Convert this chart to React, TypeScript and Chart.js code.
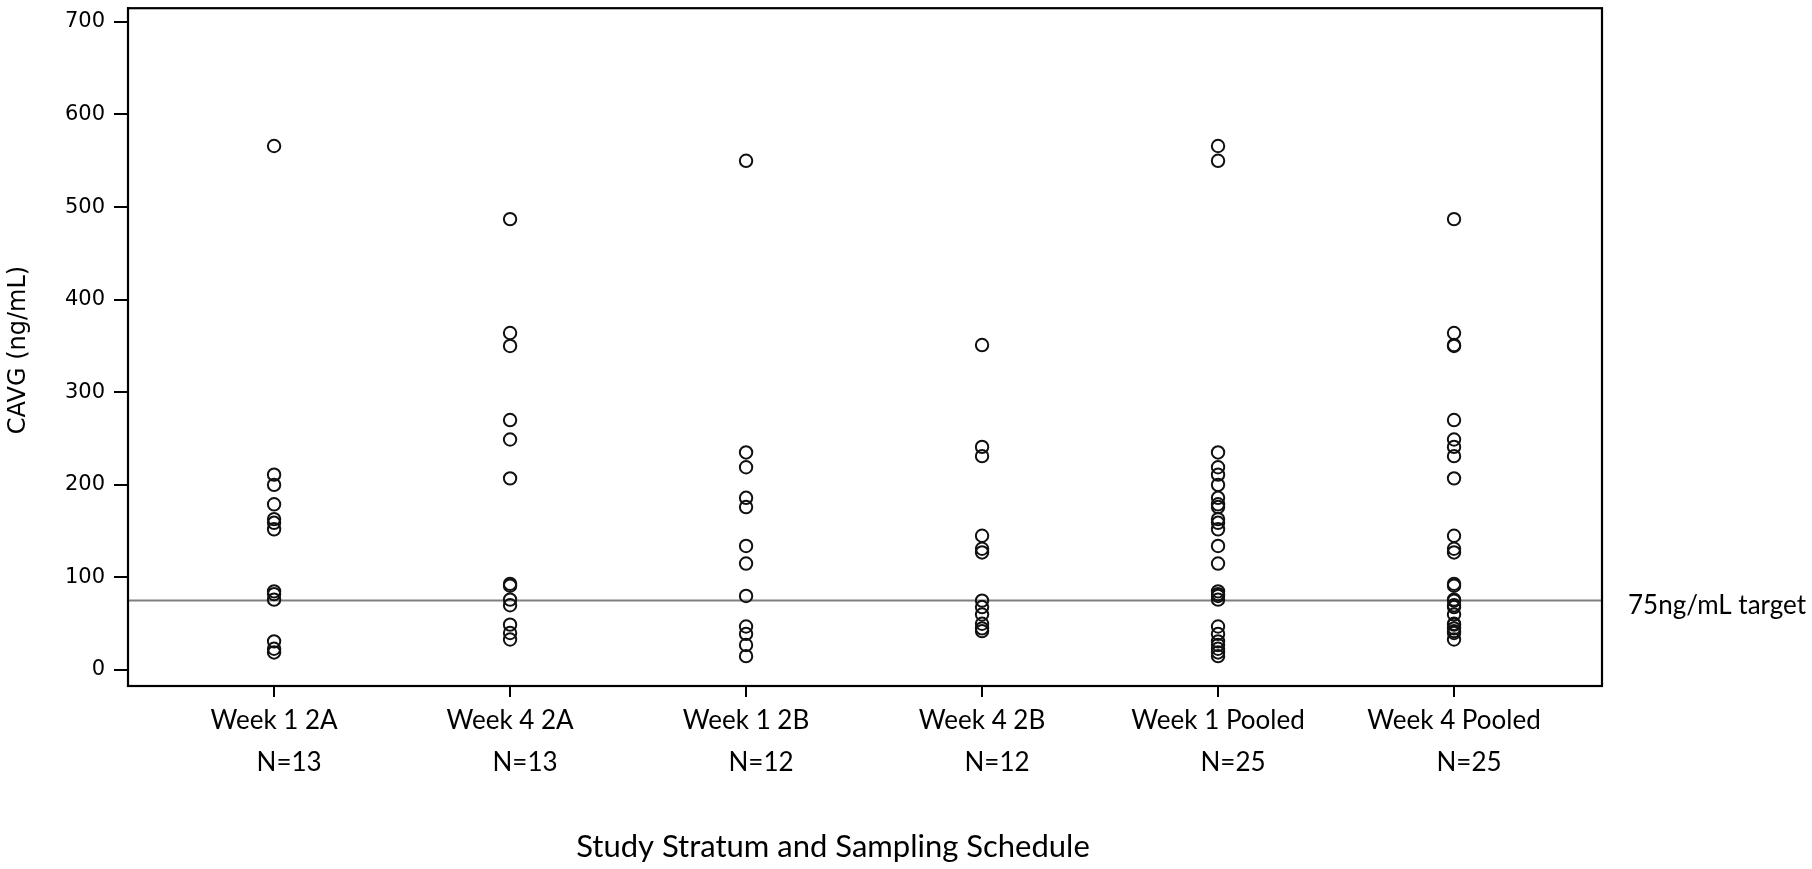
import React, { useEffect, useRef } from "react";
import { Chart, registerables } from "chart.js";

Chart.register(...registerables);

const categories = ["Week 1 2A", "Week 4 2A", "Week 1 2B", "Week 4 2B", "Week 1 Pooled", "Week 4 Pooled"];
const nLabels = ["N=13", "N=13", "N=12", "N=12", "N=25", "N=25"];

const week1_2A = [566, 211, 200, 179, 163, 159, 152, 85, 82, 76, 31, 23, 19];
const week4_2A = [487, 364, 350, 270, 249, 207, 93, 91, 76, 70, 49, 40, 33];
const week1_2B = [550, 235, 219, 186, 176, 134, 115, 80, 47, 39, 27, 15];
const week4_2B = [351, 241, 231, 145, 131, 127, 75, 68, 60, 50, 45, 42];
const week1Pooled = [566, 550, 235, 219, 211, 200, 186, 179, 176, 163, 159, 152, 134, 115, 85, 82, 80, 76, 47, 39, 31, 27, 23, 19, 15];
const week4Pooled = [487, 364, 351, 350, 270, 249, 241, 231, 207, 145, 131, 127, 93, 91, 76, 75, 70, 68, 60, 50, 49, 45, 42, 40, 33];

const yTicks = [0, 100, 200, 300, 400, 500, 600, 700];
const targetValue = 75;
const targetLabel = "75ng/mL target";
const yTitle = "CAVG (ng/mL)";
const xTitle = "Study Stratum and Sampling Schedule";

const seriesByCategory = [week1_2A, week4_2A, week1_2B, week4_2B, week1Pooled, week4Pooled];

const decorPlugin = {
  id: "decor",
  beforeDatasetsDraw(chart: any) {
    const { ctx, chartArea } = chart;
    const y = chart.scales.y.getPixelForValue(targetValue);
    ctx.save();
    ctx.strokeStyle = "#7f7f7f";
    ctx.lineWidth = 2;
    ctx.beginPath();
    ctx.moveTo(chartArea.left, y);
    ctx.lineTo(chartArea.right, y);
    ctx.stroke();
    ctx.restore();
  },
  afterDraw(chart: any) {
    const { ctx, chartArea } = chart;
    const xs = chart.scales.x;
    const ys = chart.scales.y;
    ctx.save();
    ctx.strokeStyle = "#000";
    ctx.lineWidth = 2.2;
    ctx.strokeRect(chartArea.left, chartArea.top, chartArea.right - chartArea.left, chartArea.bottom - chartArea.top);
    ctx.fillStyle = "#000";
    ctx.font = "26px Lato";
    ctx.textAlign = "left";
    ctx.textBaseline = "middle";
    ctx.fillText(targetLabel, chartArea.right + 26, ys.getPixelForValue(targetValue) + 5);
    ctx.textAlign = "center";
    nLabels.forEach((lab, i) => {
      ctx.fillText(lab, xs.getPixelForValue(i) + 15, 763);
    });
    ctx.font = "31px Lato";
    ctx.fillText(xTitle, 833, 847);
    ctx.translate(19, 350);
    ctx.rotate(-Math.PI / 2);
    ctx.font = "24px 'DejaVu Sans'";
    ctx.fillText(yTitle, 0, 0);
    ctx.restore();
  },
};

export default function App() {
  const canvasRef = useRef<HTMLCanvasElement | null>(null);

  useEffect(() => {
    if (!canvasRef.current) return;
    const points: { x: number; y: number }[] = [];
    seriesByCategory.forEach((vals, i) => vals.forEach((v) => points.push({ x: i, y: v })));

    const chart = new Chart(canvasRef.current, {
      type: "scatter",
      data: {
        datasets: [
          {
            data: points,
            pointRadius: 6.2,
            pointHoverRadius: 6.2,
            pointBorderWidth: 2,
            borderColor: "#111",
            backgroundColor: "rgba(0,0,0,0)",
            pointBackgroundColor: "rgba(0,0,0,0)",
            pointBorderColor: "#111",
          },
        ],
      },
      options: {
        animation: false,
        responsive: true,
        maintainAspectRatio: false,
        layout: { padding: { left: 0, top: 7, right: 210, bottom: 0 } },
        plugins: { legend: { display: false }, tooltip: { enabled: false }, title: { display: false } },
        scales: {
          x: {
            type: "linear",
            min: -0.619,
            max: 5.627,
            afterBuildTicks: (scale: any) => {
              scale.ticks = categories.map((_, i) => ({ value: i }));
            },
            afterFit: (scale: any) => {
              scale.height = 183;
              scale.paddingLeft = 0;
              scale.paddingRight = 0;
            },
            ticks: {
              autoSkip: false,
              maxRotation: 0,
              color: "#000",
              padding: 8,
              font: { family: "Lato", size: 26, lineHeight: 1.2 },
              callback: (v: any) => categories[Math.round(Number(v))] ?? "",
            },
            grid: { display: true, drawOnChartArea: false, drawTicks: true, tickLength: 11, color: "#000", lineWidth: 2 },
            border: { display: true, color: "#000", width: 2 },
          },
          y: {
            type: "linear",
            min: -17.25,
            max: 714.8,
            afterBuildTicks: (scale: any) => {
              scale.ticks = yTicks.map((v) => ({ value: v }));
            },
            afterFit: (scale: any) => {
              scale.width = 128;
              scale.paddingTop = 0;
              scale.paddingBottom = 0;
            },
            ticks: {
              color: "#000",
              padding: 9,
              font: { family: "'DejaVu Sans'", size: 21 },
              callback: (v: any) => String(v),
            },
            grid: { display: true, drawOnChartArea: false, drawTicks: true, tickLength: 14, color: "#000", lineWidth: 2 },
            border: { display: true, color: "#000", width: 2 },
          },
        },
      },
      plugins: [decorPlugin],
    });
    return () => chart.destroy();
  }, []);

  return (
    <div style={{ position: "fixed", left: 0, top: 0, width: 1812, height: 869, background: "#fff" }}>
      <canvas ref={canvasRef} />
    </div>
  );
}
